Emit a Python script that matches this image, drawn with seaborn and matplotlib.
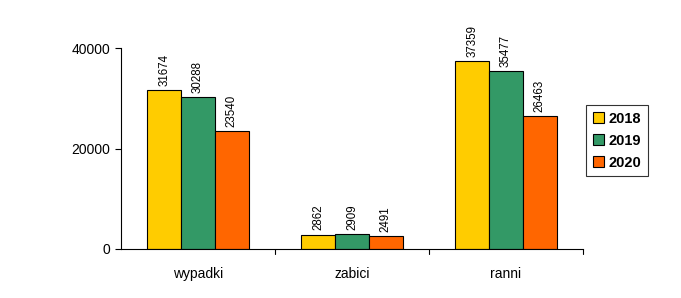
import matplotlib
matplotlib.use("Agg")
import matplotlib.pyplot as plt
import seaborn as sns
import pandas as pd

categories = ["wypadki", "zabici", "ranni"]
years = ["2018", "2019", "2020"]
v2018 = [31674, 2862, 37359]
v2019 = [30288, 2909, 35477]
v2020 = [23540, 2491, 26463]
colors = ["#FFCC00", "#339966", "#FF6600"]

rows = []
for y, vals in zip(years, [v2018, v2019, v2020]):
    for c, v in zip(categories, vals):
        rows.append({"kat": c, "rok": y, "val": v})
df = pd.DataFrame(rows)

sns.set_style("white")
plt.rcParams["font.family"] = ["Liberation Sans", "DejaVu Sans"]
plt.rcParams["text.color"] = "black"
plt.rcParams["xtick.color"] = "black"
plt.rcParams["ytick.color"] = "black"
plt.rcParams["xtick.labelcolor"] = "black"
plt.rcParams["ytick.labelcolor"] = "black"

fig = plt.figure(figsize=(6.81, 2.98), dpi=100)
ax = fig.add_axes([121/681, 1-249/298, (583-121)/681, (249-48)/298])

sns.barplot(data=df, x="kat", y="val", hue="rok", palette=colors, width=0.66,
            edgecolor="black", linewidth=0.8, ax=ax, saturation=1)

for cont in ax.containers:
    ax.bar_label(cont, labels=[str(int(v)) for v in cont.datavalues],
                 rotation=90, fontsize=8.3, padding=3, color="black")

ax.set_ylim(0, 40000)
ax.set_xlim(-0.5, 2.5)
ax.set_yticks([0, 20000, 40000])
ax.set_yticklabels(["0", "20000", "40000"], fontsize=10)
ax.set_xticks([0, 1, 2])
ax.set_xticklabels(categories, fontsize=10)
ax.tick_params(axis="x", length=0, pad=13)
ax.tick_params(axis="y", length=4, direction="out", left=True, width=0.8, pad=4)
for b in [0.5, 1.5, 2.5]:
    ax.plot([b, b], [0, -0.025], transform=ax.get_xaxis_transform(), color="black",
            lw=0.8, clip_on=False)
ax.set_xlabel("")
ax.set_ylabel("")
sns.despine(ax=ax, top=True, right=True)
ax.spines["left"].set_color("black")
ax.spines["bottom"].set_color("black")
ax.spines["left"].set_linewidth(0.8)
ax.spines["bottom"].set_linewidth(0.8)

leg = ax.legend(title=None, loc="upper left", bbox_to_anchor=(586/681, 1-105/298),
                bbox_transform=fig.transFigure, frameon=True, fancybox=False,
                prop={"weight": "bold", "size": 10.5}, handlelength=0.75, handleheight=0.75,
                handletextpad=0.35, borderpad=0.45, labelspacing=0.55, borderaxespad=0)
leg.get_frame().set_edgecolor("black")
leg.get_frame().set_linewidth(0.8)

fig.savefig("out.png", dpi=100)
